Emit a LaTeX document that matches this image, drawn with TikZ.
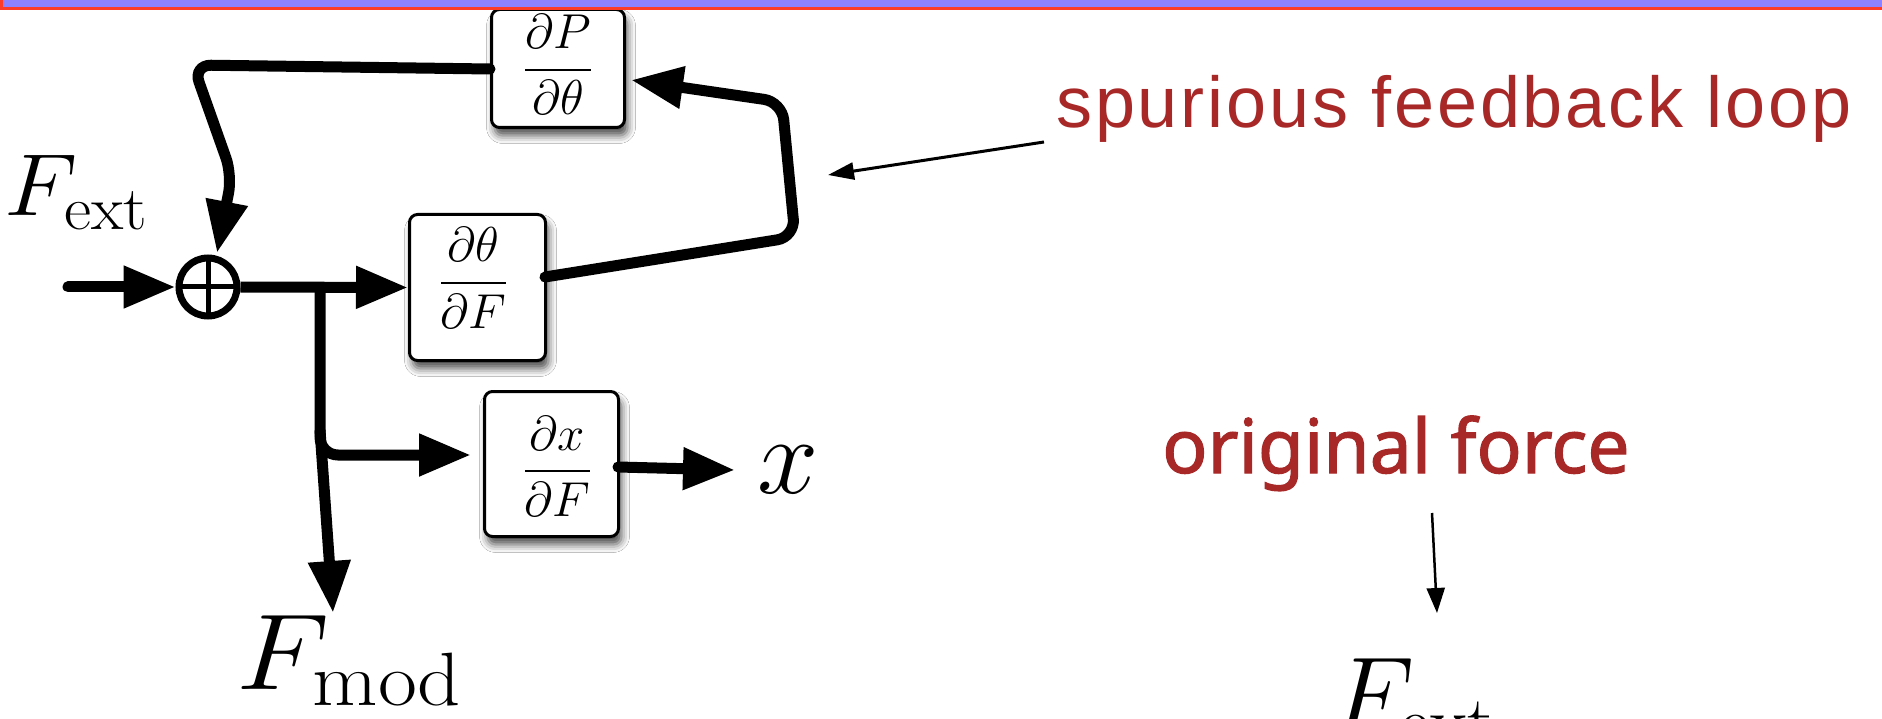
\RequirePackage{fix-cm}
\documentclass[tikz,border=0pt]{standalone}
\usepackage{fontspec}
\usetikzlibrary{arrows.meta,calc,shadows.blur}
\definecolor{bandfill}{RGB}{140,130,255}
\definecolor{bandline}{RGB}{250,60,40}
\definecolor{labred}{RGB}{168,40,40}
\newfontfamily\spurfont[LetterSpace=4]{Liberation Sans}
\newfontfamily\origfont[FakeBold=1.5]{Noto Sans}
\begin{document}
\begin{tikzpicture}[x=1pt,y=-1pt,
  blk/.style={draw, line width=3pt, rounded corners=8pt, fill=white, inner sep=0pt,
     blur shadow={shadow xshift=3pt, shadow yshift=-8pt, shadow blur radius=8pt, shadow opacity=70}},
  fpart/.style={inner sep=0pt, anchor=base, font=\fontsize{49}{56}\selectfont},
  fbar/.style={line width=2.5pt},
  mlab/.style={inner sep=0pt, anchor=base west},
  conn/.style={line width=11pt, rounded corners=18pt, -{Triangle[length=52pt,width=40pt]}},
  thinarr/.style={-{Triangle[length=26pt,width=17pt]}},
  redlab/.style={inner sep=0pt, anchor=base west, text=labred},
]
\clip (0,0) rectangle (1882,719);
\fill[white] (0,0) rectangle (1882,719);

% blocks
\node[blk, minimum width=133pt, minimum height=118pt] (bP) at (558,68.5) {};
\node[blk, minimum width=136pt, minimum height=146pt] (bT) at (477.5,287.5) {};
\node[blk, minimum width=134pt, minimum height=145pt] (bX) at (551.5,464) {};

% fractions (numerator, bar, denominator)
\node[fpart] (nP) at (558,49) {$\partial P$};
\draw[fbar] (525,70) -- (591,70);
\node[fpart] (dP) at (558,115) {$\partial\theta$};

\node[fpart] (nT) at (473.5,262) {$\partial\theta$};
\draw[fbar] (441,283) -- (506,283);
\node[fpart] (dT) at (473.5,328) {$\partial F$};

\node[fpart] (nX) at (557.5,450) {$\partial x$};
\draw[fbar] (525,471) -- (590,471);
\node[fpart] (dX) at (557.5,516) {$\partial F$};

% summing junction
\node[circle, draw, line width=7pt, minimum size=58pt, inner sep=0pt] (sum) at (208,287) {};
\draw[line width=5pt] ($(sum.center)+(0,-29)$) -- ($(sum.center)+(0,29)$);
\draw[line width=5pt] ($(sum.center)+(-28,0)$) -- ($(sum.center)+(28,0)$);

% coordinates
\coordinate (in) at (68,287);
\coordinate (br) at (320,287);
\coordinate (xin) at (471,455);
\coordinate (fm0) at (320,430);
\coordinate (fmtip) at (333,613);
\coordinate (xtip) at (735,470);
\coordinate (c1) at (795,237);
\coordinate (c2) at (782,102);
\coordinate (ptip) at (631,80);
\coordinate (c3) at (193,65);
\coordinate (c4) at (232,175);
\coordinate (stip) at (217,253);
\coordinate (s0) at (1044,142);
\coordinate (s1) at (828,175);
\coordinate (o0) at (1432,513);
\coordinate (o1) at (1437,613);

% connectors
\draw[conn, line cap=round] (in) -- (sum.west);
\draw[conn] (sum.east) -- (bT.west);
\draw[conn] (br) -- (br |- xin) -- (xin);
\draw[conn] (fm0) -- (fmtip);
\draw[conn, line cap=round] ($(bX.east)+(-2,3)$) -- (xtip);
\draw[conn, line cap=round] ($(bT.east)+(-2,-10.5)$) -- (c1) -- (c2) -- (ptip);
\draw[conn, line cap=round] ($(bP.west)+(0,0.5)$) -- (c3) -- (c4) -- (stip);
\draw[thinarr, line width=3pt] (s0) -- (s1);
\draw[line width=2.5pt, -{Triangle[length=25pt,width=18pt]}] (o0) -- (o1);

% labels
\node[mlab, font=\fontsize{88}{100}\selectfont] (Fext) at (4,216) {\scalebox{1.08}[1]{$F_{\mathrm{ext}}$}};
\node[mlab, font=\fontsize{108}{120}\selectfont] (Fmod) at (236,689) {\scalebox{1.12}[1]{$F_{\mathrm{mod}}$}};
\node[mlab, font=\fontsize{110}{120}\selectfont] (xout) at (757,493) {$x$};
\node[mlab, font=\fontsize{108}{120}\selectfont] (Fext2) at (1331,732) {$F_{\mathrm{ext}}$};
\node[redlab, font=\spurfont\fontsize{72}{82}\selectfont] (spur) at (1056,128) {spurious feedback loop};
\node[redlab, font=\origfont\fontsize{75}{85}\selectfont] (orig) at (1162,473) {original force};

% top band
\draw[fill=bandfill, draw=bandline, line width=3pt] (1.5,-20) rectangle (1900,8.5);
\end{tikzpicture}
\end{document}
